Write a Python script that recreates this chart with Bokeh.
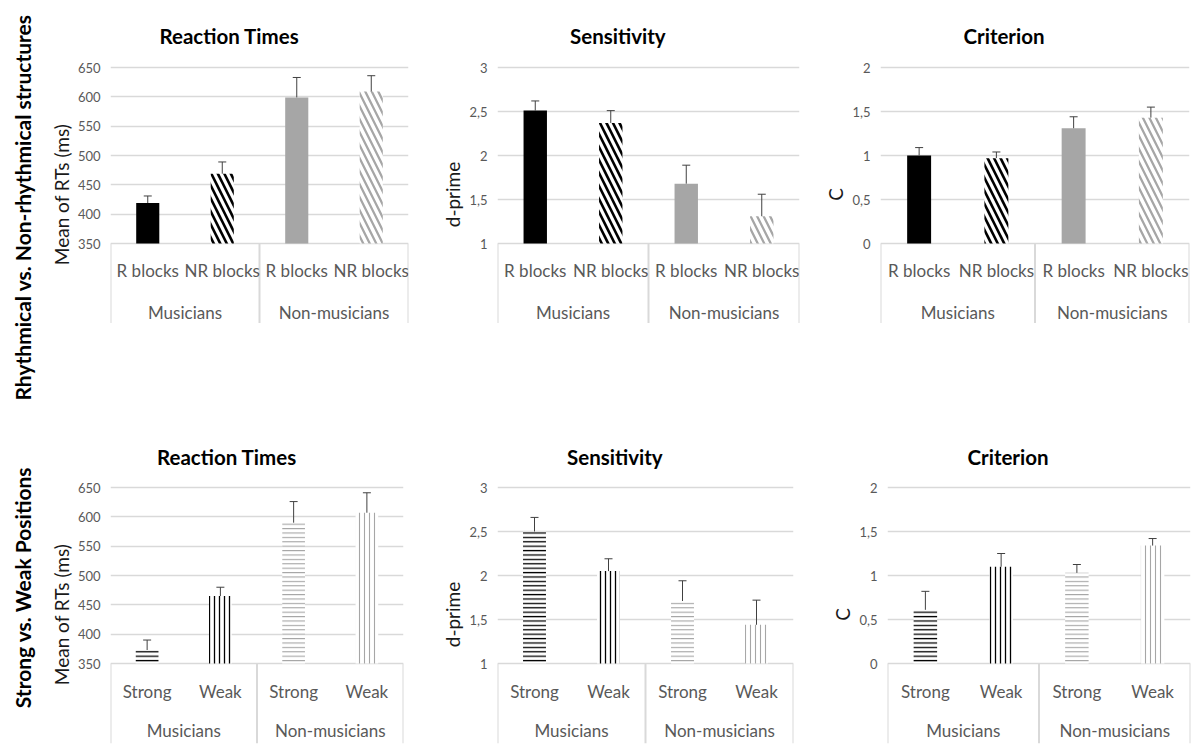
import math
from bokeh.plotting import figure
from bokeh.models import FactorRange, Range1d, FixedTicker, ColumnDataSource, Title
from bokeh.layouts import row, column
from bokeh.core.properties import value
from bokeh.embed import file_html
from bokeh.resources import INLINE

FONT = "Lato"

# ---------------- data ----------------
groups = ["Musicians", "Non-musicians"]
blocks = ["R blocks", "NR blocks"]
positions = ["Strong", "Weak"]

row_labels = ["Rhythmical vs. Non-rhythmical structures", "Strong vs. Weak Positions"]
titles = ["Reaction Times", "Sensitivity", "Criterion"]
y_titles = ["Mean of RTs (ms)", "d-prime", "C"]

# Rhythmical vs non-rhythmical blocks (Mus R, Mus NR, Non R, Non NR)
rt_blocks = [419, 469, 599, 609]
rt_blocks_err = [12, 20, 34, 27]
dp_blocks = [2.51, 2.37, 1.68, 1.31]
dp_blocks_err = [0.11, 0.14, 0.21, 0.25]
c_blocks = [1.00, 0.97, 1.31, 1.43]
c_blocks_err = [0.09, 0.07, 0.13, 0.12]

# Strong vs weak positions (Mus Strong, Mus Weak, Non Strong, Non Weak)
rt_pos = [373, 465, 590, 607]
rt_pos_err = [17, 15, 36, 34]
dp_pos = [2.50, 2.05, 1.71, 1.44]
dp_pos_err = [0.16, 0.14, 0.23, 0.28]
c_pos = [0.61, 1.10, 1.03, 1.34]
c_pos_err = [0.21, 0.15, 0.095, 0.08]

rt_ticks = [350, 400, 450, 500, 550, 600, 650]
rt_tick_labels = ["350", "400", "450", "500", "550", "600", "650"]
dp_ticks = [1, 1.5, 2, 2.5, 3]
dp_tick_labels = ["1", "1,5", "2", "2,5", "3"]
c_ticks = [0, 0.5, 1, 1.5, 2]
c_tick_labels = ["0", "0,5", "1", "1,5", "2"]

# ---------------- styles ----------------
BLACK = "#000000"
GREY = "#a6a6a6"
top_styles = dict(
    fill_color=[BLACK, "white", GREY, "white"],
    hatch_pattern=[" ", "\\", " ", "\\"],
    hatch_color=[BLACK, BLACK, GREY, GREY],
    hatch_scale=[13, 13, 13, 13],
    hatch_weight=[2.6, 2.6, 2.3, 2.3],
)
bottom_styles = dict(
    fill_color=["white", "white", "white", "white"],
    hatch_pattern=["-", "|", "-", "|"],
    hatch_color=[BLACK, BLACK, GREY, GREY],
    hatch_scale=[4.4, 5, 4.4, 5],
    hatch_weight=[1.3, 1.3, 1.1, 1.1],
)
# approximate rendered title widths (px) used to centre titles over the chart area
TITLE_W = {"Reaction Times": 138, "Sensitivity": 95, "Criterion": 81}
TITLE_SHIFT = -31   # chart-area centre lies left of the frame centre

PLOT_H = 176
BOX_H = 80
TOP_PAD = 2
GRID = "#d9d9d9"
LABEL_GREY = "#595959"


def panel(title, ytitle, subs, values, errs, ticks, tick_labels, styles,
          frame_w, left, right, top, bottom, sub_off, grp_off, title_standoff):
    factors = [(g, s) for g in groups for s in subs]
    lo, hi = ticks[0], ticks[-1]
    upp = (hi - lo) / PLOT_H
    y_range = Range1d(lo - BOX_H * upp, hi + TOP_PAD * upp)
    x_range = FactorRange(*factors, range_padding=0, group_padding=0,
                          subgroup_padding=0, factor_padding=0)
    p = figure(x_range=x_range, y_range=y_range,
               frame_width=frame_w, frame_height=PLOT_H + BOX_H + TOP_PAD,
               min_border_left=left, min_border_right=right,
               min_border_top=top, min_border_bottom=bottom,
               output_backend="svg", toolbar_location=None,
               outline_line_color=None, border_fill_color="white",
               background_fill_color="white")
    p.title = Title(text=title, align="left", vertical_align="top",
                    offset=frame_w / 2 + TITLE_SHIFT - TITLE_W[title] / 2,
                    text_font=FONT, text_font_size="20.5px", text_font_style="bold",
                    text_color="#000000", standoff=title_standoff)
    p.xaxis.visible = False
    p.xgrid.grid_line_color = None
    ax = p.yaxis[0]
    ax.bounds = (lo, hi)
    ax.ticker = FixedTicker(ticks=ticks)
    ax.major_label_overrides = {float(t): l for t, l in zip(ticks, tick_labels)}
    ax.axis_line_color = None
    ax.major_tick_line_color = None
    ax.minor_tick_line_color = None
    ax.major_tick_out = 0
    ax.major_tick_in = 0
    ax.major_label_standoff = 10
    ax.major_label_text_font = FONT
    ax.major_label_text_font_size = "13px"
    ax.major_label_text_color = LABEL_GREY
    ax.axis_label = ytitle
    ax.axis_label_text_font = FONT
    ax.axis_label_text_font_size = "19px"
    ax.axis_label_text_font_style = "normal"
    ax.axis_label_text_color = "#1a1a1a"
    ax.axis_label_standoff = 2
    p.ygrid.grid_line_color = GRID
    p.ygrid.grid_line_width = 1.6

    # category box
    edges = [(groups[0], subs[0], -0.5), (groups[0], subs[1], 0.5), (groups[1], subs[1], 0.5)]
    p.segment(x0=edges, y0=[lo] * 3, x1=edges, y1=[y_range.start] * 3,
              line_color=GRID, line_width=2)

    src = ColumnDataSource(dict(x=factors, top=values,
                                etop=[v + e for v, e in zip(values, errs)], **styles))
    p.vbar(x="x", top="top", bottom=lo, width=0.31, source=src,
           fill_color="fill_color", hatch_pattern="hatch_pattern",
           hatch_color="hatch_color", hatch_scale="hatch_scale",
           hatch_weight="hatch_weight", line_color=None)
    p.segment(x0="x", y0="top", x1="x", y1="etop", source=src,
              line_color="#404040", line_width=1)
    p.scatter(x="x", y="etop", source=src, marker="dash", size=8,
              line_color="#404040", line_width=1)

    p.text(x=factors, y=[lo] * 4, text=[s for g in groups for s in subs],
           y_offset=sub_off, text_align="center", text_baseline="middle",
           text_font=value(FONT), text_font_size="17px", text_color=LABEL_GREY)
    p.text(x=groups, y=[lo] * 2, text=groups,
           y_offset=grp_off, text_align="center", text_baseline="middle",
           text_font=value(FONT), text_font_size="17px", text_color=LABEL_GREY)
    return p


top_common = dict(top=65, bottom=0, sub_off=27, grp_off=69, title_standoff=31)
bot_common = dict(top=162, bottom=2, sub_off=28, grp_off=67, title_standoff=29)

p1 = panel(titles[0], y_titles[0], blocks, rt_blocks, rt_blocks_err, rt_ticks, rt_tick_labels,
           top_styles, 298, 74, 29, **top_common)
p2 = panel(titles[1], y_titles[1], blocks, dp_blocks, dp_blocks_err, dp_ticks, dp_tick_labels,
           top_styles, 302, 60, 21, **top_common)
p3 = panel(titles[2], y_titles[2], blocks, c_blocks, c_blocks_err, c_ticks, c_tick_labels,
           top_styles, 309, 60, 5, **top_common)
p4 = panel(titles[0], y_titles[0], positions, rt_pos, rt_pos_err, rt_ticks, rt_tick_labels,
           bottom_styles, 293, 74, 34, **bot_common)
p5 = panel(titles[1], y_titles[1], positions, dp_pos, dp_pos_err, dp_ticks, dp_tick_labels,
           bottom_styles, 296, 60, 34, **bot_common)
p6 = panel(titles[2], y_titles[2], positions, c_pos, c_pos_err, c_ticks, c_tick_labels,
           bottom_styles, 303, 60, 4, **bot_common)

# row labels
lab = figure(width=36, height=745, x_range=Range1d(0, 36), y_range=Range1d(745, 0),
             x_axis_location=None, y_axis_location=None, min_border=0,
             output_backend="svg", toolbar_location=None, outline_line_color=None)
lab.grid.grid_line_color = None
lab.text(x=[22, 22], y=[207, 587], text=row_labels, angle=math.pi / 2,
         text_align="center", text_baseline="middle", text_font=value(FONT),
         text_font_size="21px", text_font_style="bold", text_color="#000000")

layout = row(lab, column(row(p1, p2, p3), row(p4, p5, p6)))

open("out.html", "w").write(file_html(layout, INLINE))
